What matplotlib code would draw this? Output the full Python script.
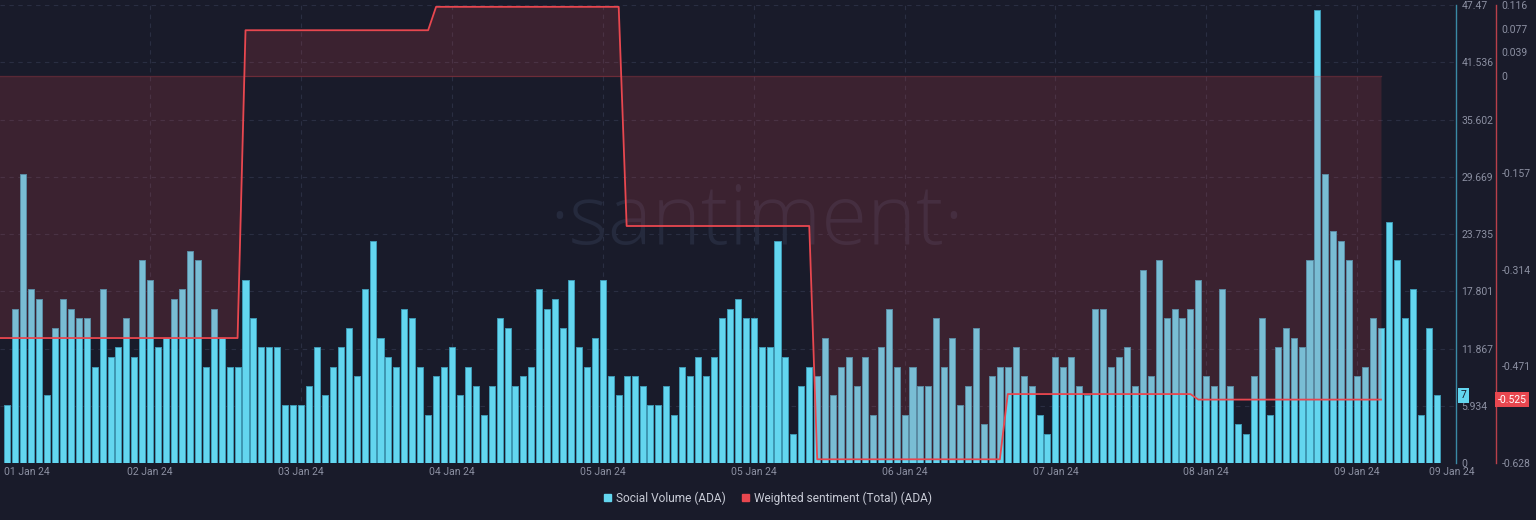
import numpy as np
import matplotlib
matplotlib.use("Agg")
import matplotlib.pyplot as plt
from matplotlib.patches import Patch
from matplotlib.transforms import blended_transform_factory

plt.rcParams["font.family"] = ["Roboto", "DejaVu Sans"]

# hourly social volume (ADA)
social_volume = [
    6, 16, 30, 18, 17, 7, 14, 17, 16, 15, 15, 10, 18, 11, 12, 15, 11, 21, 19, 12,
    13, 17, 18, 22, 21, 10, 16, 13, 10, 10, 19, 15, 12, 12, 12, 6, 6, 6, 8, 12,
    7, 10, 12, 14, 9, 18, 23, 13, 11, 10, 16, 15, 10, 5, 9, 10, 12, 7, 10, 8,
    5, 8, 15, 14, 8, 9, 10, 18, 16, 17, 14, 19, 12, 10, 13, 19, 9, 7, 9, 9,
    8, 6, 6, 8, 5, 10, 9, 11, 9, 11, 15, 16, 17, 15, 15, 12, 12, 23, 11, 3,
    8, 10, 9, 13, 7, 10, 11, 8, 11, 5, 12, 16, 10, 5, 10, 8, 8, 15, 10, 13,
    6, 8, 14, 4, 9, 10, 10, 12, 9, 8, 5, 3, 11, 10, 11, 8, 7, 16, 16, 10,
    11, 12, 8, 20, 9, 21, 15, 16, 15, 16, 19, 9, 8, 18, 8, 4, 3, 9, 15, 5,
    12, 14, 13, 12, 21, 47, 30, 24, 23, 21, 9, 10, 15, 14, 25, 21, 15, 18, 5, 14,
    7,
]

# weighted sentiment (total): one level per day, hours each level lasts
sentiment_levels = [-0.425, 0.075, 0.113, -0.243, -0.622, -0.516, -0.525]
sentiment_hours = [31, 24, 24, 24, 24, 24, 24]

vol_ticks = [0, 5.934, 11.867, 17.801, 23.735, 29.669, 35.602, 41.536, 47.47]
vol_labels = ["0", "5.934", "11.867", "17.801", "23.735", "29.669", "35.602", "41.536", "47.47"]
sent_ticks = [-0.628, -0.471, -0.314, -0.157, 0, 0.039, 0.077, 0.116]
sent_labels = ["-0.628", "-0.471", "-0.314", "-0.157", "0", "0.039", "0.077", "0.116"]

date_pos = [-0.4, 18, 37, 56, 75, 94, 113, 132, 151, 170, 181.9]
date_labels = ["01 Jan 24", "02 Jan 24", "03 Jan 24", "04 Jan 24", "05 Jan 24", "05 Jan 24",
               "06 Jan 24", "07 Jan 24", "08 Jan 24", "09 Jan 24", "09 Jan 24"]

BG = "#191b2a"
CYAN = "#63d6ef"
RED = "#e8474f"
GRID = "#2a2e42"
TXT = "#8c90a2"

fig = plt.figure(figsize=(15.36, 5.2), dpi=100, facecolor=BG)
ax = fig.add_axes([0, 57 / 520, 1456 / 1536, 458 / 520])
ax.set_facecolor(BG)
ax2 = ax.twinx()

x_vol = np.arange(len(social_volume))
ax.bar(x_vol, social_volume, width=0.76, color=CYAN, edgecolor="#3f9ab5",
       linewidth=0.7, zorder=2)
ax.set_xlim(-0.92, 182.45)
ax.set_ylim(0, 47.47)

# grid
for v in vol_ticks[1:]:
    ax.axhline(v, color=GRID, lw=0.8, dashes=(4, 4), zorder=0)
for p in date_pos[1:-1]:
    ax.axvline(p, color=GRID, lw=0.8, dashes=(4, 4), zorder=0)

# watermark
ax.text(0.52, 0.525, "\u00b7santiment\u00b7", transform=ax.transAxes, ha="center",
        va="center", fontsize=60, color="#252a3d", family="Open Sans",
        fontweight="light", zorder=1)

ax.yaxis.tick_right()
ax.yaxis.set_label_position("right")
ax.set_yticks(vol_ticks, vol_labels)
ax.tick_params(axis="y", which="both", left=False, right=True, labelleft=False,
               labelright=True, length=0, pad=4, labelsize=7.5, labelcolor=TXT)
ax.set_xticks(date_pos, date_labels)
ax.tick_params(axis="x", length=0, pad=3, labelsize=7.5, labelcolor=TXT)
xt = ax.get_xticklabels()
xt[0].set_ha("left")
for s in ["left", "top", "bottom"]:
    ax.spines[s].set_visible(False)
ax.spines["right"].set_visible(True)
ax.spines["right"].set_color("#3a8aa5")
ax.spines["right"].set_linewidth(1.0)

# sentiment
sent = np.repeat(sentiment_levels, sentiment_hours)
x_sent = np.arange(len(sent)) - 1
ax2.fill_between(x_sent, 0, sent, color=RED, alpha=0.17, linewidth=0, zorder=3)
ax2.plot([x_sent[0], x_sent[-1]], [0, 0], color=RED, alpha=0.3, lw=0.9, zorder=3)
ax2.plot(x_sent, sent, color=RED, lw=1.3, zorder=4)
ax2.set_ylim(-0.628, 0.116)
ax2.set_yticks(sent_ticks, sent_labels)
ax2.tick_params(axis="y", length=0, pad=4, labelsize=7.5, labelcolor=TXT)
for s in ["left", "top", "bottom"]:
    ax2.spines[s].set_visible(False)
ax2.spines["right"].set_position(("outward", 28.8))
ax2.spines["right"].set_color("#b8404a")
ax2.spines["right"].set_linewidth(1.0)

# current value badges
tr1 = blended_transform_factory(fig.transFigure, ax.transData)
ax.text(1463.5 / 1536, social_volume[-1], str(social_volume[-1]), transform=tr1,
        ha="center", va="center", fontsize=7.5, color=BG, zorder=6, clip_on=False,
        bbox=dict(boxstyle="square,pad=0.2", fc=CYAN, ec="none"))
tr2 = blended_transform_factory(fig.transFigure, ax2.transData)
ax2.text(1512 / 1536, sentiment_levels[-1], "-0.525", transform=tr2,
         ha="center", va="center", fontsize=7.5, color="white", zorder=6, clip_on=False,
         bbox=dict(boxstyle="square,pad=0.25", fc=RED, ec="none"))

fig.legend(handles=[Patch(color=CYAN), Patch(color=RED)],
           labels=["Social Volume (ADA)", "Weighted sentiment (Total) (ADA)"],
           loc="center", bbox_to_anchor=(0.5, 22 / 520), ncol=2, frameon=False,
           fontsize=8.6, labelcolor="#c8cbd6", handlelength=0.6, handleheight=0.6,
           handletextpad=0.45, columnspacing=1.3)

fig.savefig("out.png", dpi=100, facecolor=BG)
